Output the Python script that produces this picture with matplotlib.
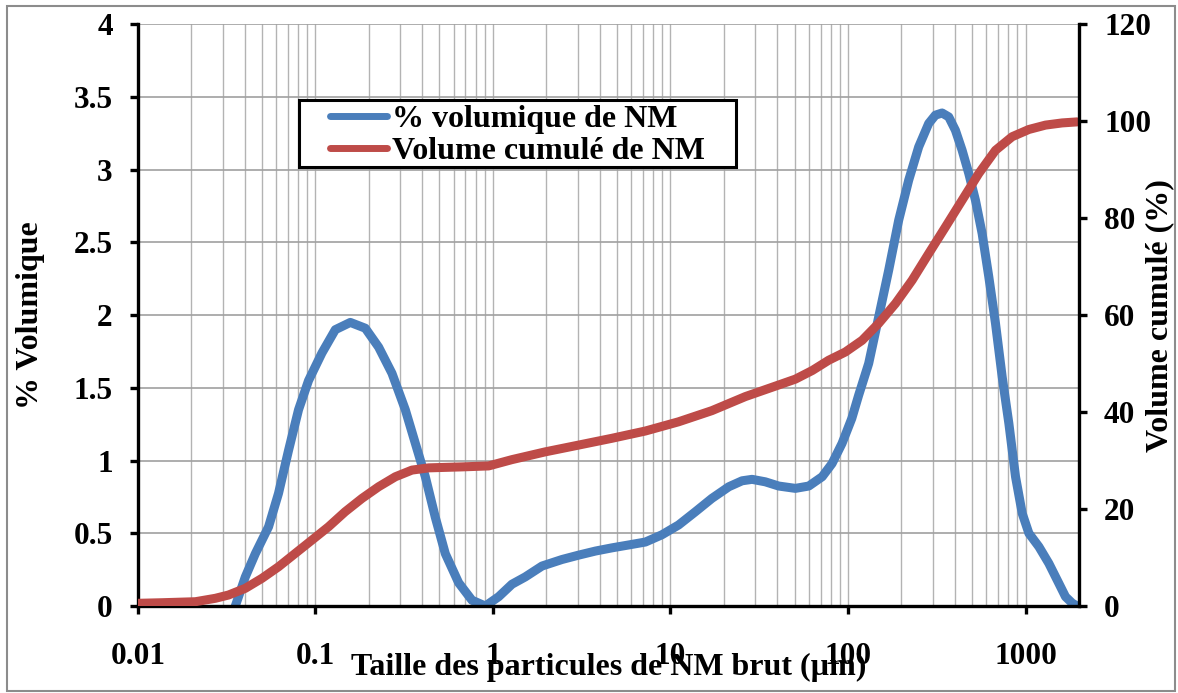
import matplotlib
matplotlib.use("Agg")
import matplotlib.pyplot as plt
from matplotlib.patches import Rectangle
from matplotlib.ticker import FixedLocator, FuncFormatter, LogLocator, NullFormatter

# --- Données ---
taille_vol = [0.0354, 0.0403, 0.0459, 0.0545, 0.062, 0.0706, 0.0804, 0.0915, 0.1089, 0.1295,
              0.1573, 0.1911, 0.2271, 0.27, 0.3209, 0.3652, 0.4159, 0.4736, 0.5393, 0.641,
              0.7618, 0.906, 1.077, 1.28, 1.52, 1.89, 2.45, 3.04, 3.78, 4.68,
              5.82, 7.22, 8.95, 11.1, 13.8, 17.1, 21.3, 25.3, 28.8, 34.2,
              40.7, 50.5, 60.1, 71.5, 81.3, 92.5, 105, 114.8, 130.7, 148.8,
              169.4, 192.9, 219.6, 250, 284.6, 310.4, 338.5, 369.1, 402.5, 438.9,
              478.6, 521.9, 569.1, 620.6, 676.8, 738, 804.8, 877.6, 957, 1043.6,
              1188, 1352, 1539, 1678, 1830, 1950]
pct_vol = [0.0, 0.20, 0.36, 0.545, 0.775, 1.07, 1.35, 1.55, 1.74, 1.90,
           1.95, 1.91, 1.78, 1.60, 1.35, 1.12, 0.89, 0.61, 0.36, 0.16,
           0.04, 0.0, 0.064, 0.15, 0.20, 0.275, 0.32, 0.35, 0.378, 0.40,
           0.42, 0.44, 0.49, 0.557, 0.648, 0.74, 0.82, 0.861, 0.871, 0.854,
           0.825, 0.809, 0.825, 0.889, 0.98, 1.118, 1.29, 1.45, 1.668, 1.988,
           2.309, 2.653, 2.928, 3.157, 3.318, 3.375, 3.39, 3.363, 3.271, 3.134,
           2.974, 2.79, 2.561, 2.263, 1.943, 1.576, 1.256, 0.889, 0.637, 0.50,
           0.408, 0.293, 0.156, 0.064, 0.02, 0.0]

taille_cum = [0.01, 0.01366, 0.0211, 0.0273, 0.0324, 0.0403, 0.05, 0.062, 0.0771, 0.0956,
              0.1186, 0.147, 0.183, 0.227, 0.282, 0.35, 0.435, 0.669, 0.946, 1.28,
              1.97, 3.04, 4.68, 7.22, 11.1, 17.1, 26.4, 40.7, 50.5, 63,
              77.8, 96.6, 120, 148.8, 185, 229.6, 284.6, 353.8, 438.9, 544.5,
              676.8, 839.5, 1043.6, 1295, 1607, 1950]
vol_cum = [0.56, 0.68, 0.89, 1.59, 2.27, 3.65, 5.71, 8.10, 10.87, 13.6,
           16.35, 19.44, 22.2, 24.6, 26.66, 28.04, 28.5, 28.7, 28.9, 30.2,
           31.8, 33.2, 34.6, 36.1, 38.0, 40.3, 43.2, 45.6, 46.8, 48.6,
           50.7, 52.4, 54.8, 58.3, 62.4, 67.2, 72.7, 78.2, 83.7, 89.2,
           94.0, 96.8, 98.3, 99.2, 99.65, 99.86]

x_ticks = [0.01, 0.1, 1, 10, 100, 1000]
y_left_ticks = [0, 0.5, 1, 1.5, 2, 2.5, 3, 3.5, 4]
y_right_ticks = [0, 20, 40, 60, 80, 100, 120]

bleu = '#4A7EBB'
rouge = '#BE4B48'
police = 'Liberation Serif'

plt.rcParams['font.family'] = police
plt.rcParams['font.weight'] = 'bold'

fig = plt.figure(figsize=(11.78, 6.93), dpi=100)
ax = fig.add_axes([0.117, 0.1255, 0.799, 0.8395])
ax2 = ax.twinx()

l1, = ax.plot(taille_vol, pct_vol, color=bleu, lw=6.5, solid_joinstyle='round',
              solid_capstyle='round', label='% volumique de NM')
l2, = ax2.plot(taille_cum, vol_cum, color=rouge, lw=6.5, solid_joinstyle='round',
               solid_capstyle='round', label='Volume cumulé de NM')

ax.set_xscale('log')
ax.set_xlim(0.01, 2000)
ax.set_ylim(0, 4)
ax2.set_ylim(0, 120)

ax.xaxis.set_major_locator(FixedLocator(x_ticks))
ax.xaxis.set_major_formatter(FuncFormatter(lambda v, p: '%g' % v))
ax.xaxis.set_minor_locator(LogLocator(base=10, subs=range(2, 10), numticks=20))
ax.xaxis.set_minor_formatter(NullFormatter())
ax.yaxis.set_major_locator(FixedLocator(y_left_ticks))
ax.yaxis.set_major_formatter(FuncFormatter(lambda v, p: '%g' % v))
ax2.yaxis.set_major_locator(FixedLocator(y_right_ticks))

ax.grid(True, which='both', axis='x', color='#b3b3b3', lw=1.0)
ax.grid(True, which='major', axis='y', color='#a0a0a0', lw=1.2)
ax.set_axisbelow(True)

for a in (ax, ax2):
    a.spines['top'].set_visible(False)
    for s in ('left', 'right', 'bottom'):
        a.spines[s].set_linewidth(2.4)
        a.spines[s].set_color('black')
ax.spines['right'].set_visible(False)
ax2.spines['left'].set_visible(False)
ax2.spines['bottom'].set_visible(False)

ax.tick_params(axis='x', which='major', direction='out', length=6, width=2.4, pad=20, labelsize=22.5)
ax.tick_params(axis='x', which='minor', length=0)
ax.tick_params(axis='y', direction='out', length=6, width=2.4, pad=12, labelsize=22.5)
ax2.tick_params(axis='y', direction='out', length=6, width=2.4, pad=12, labelsize=22.5)

ax.set_xlabel('Taille des particules de NM brut (µm)', fontsize=23, fontweight='bold')
ax.xaxis.set_label_coords(0.5, -0.080)
ax.set_ylabel('% Volumique', fontsize=23, fontweight='bold')
ax.yaxis.set_label_coords(-0.099, 0.5)
ax2.set_ylabel('Volume cumulé (%)', fontsize=23, fontweight='bold', rotation=90)
ax2.yaxis.set_label_coords(1.070, 0.5)

# légende : cadre noir dessiné à part, plus large que le texte
ax2.add_patch(Rectangle((0.171, 0.7543), 0.4644, 0.1151, transform=ax2.transAxes,
                        fill=True, facecolor='white', edgecolor='black', lw=2.2, zorder=5))
leg = ax2.legend(handles=[l1, l2], loc='upper left', bbox_to_anchor=(0.204, 0.862),
                 borderaxespad=0, borderpad=0, frameon=False,
                 handlelength=1.8, handletextpad=0.15, labelspacing=0.1,
                 prop={'family': police, 'weight': 'bold', 'size': 23})
leg.set_zorder(6)
for h in leg.get_lines():
    h.set_linewidth(5)

# cadre gris autour de la figure
fig.patches.append(Rectangle((0.006, 0.003), 0.9915, 0.988, transform=fig.transFigure,
                             fill=False, edgecolor='#8c8c8c', lw=1.5))

fig.savefig('out.png', dpi=100)
